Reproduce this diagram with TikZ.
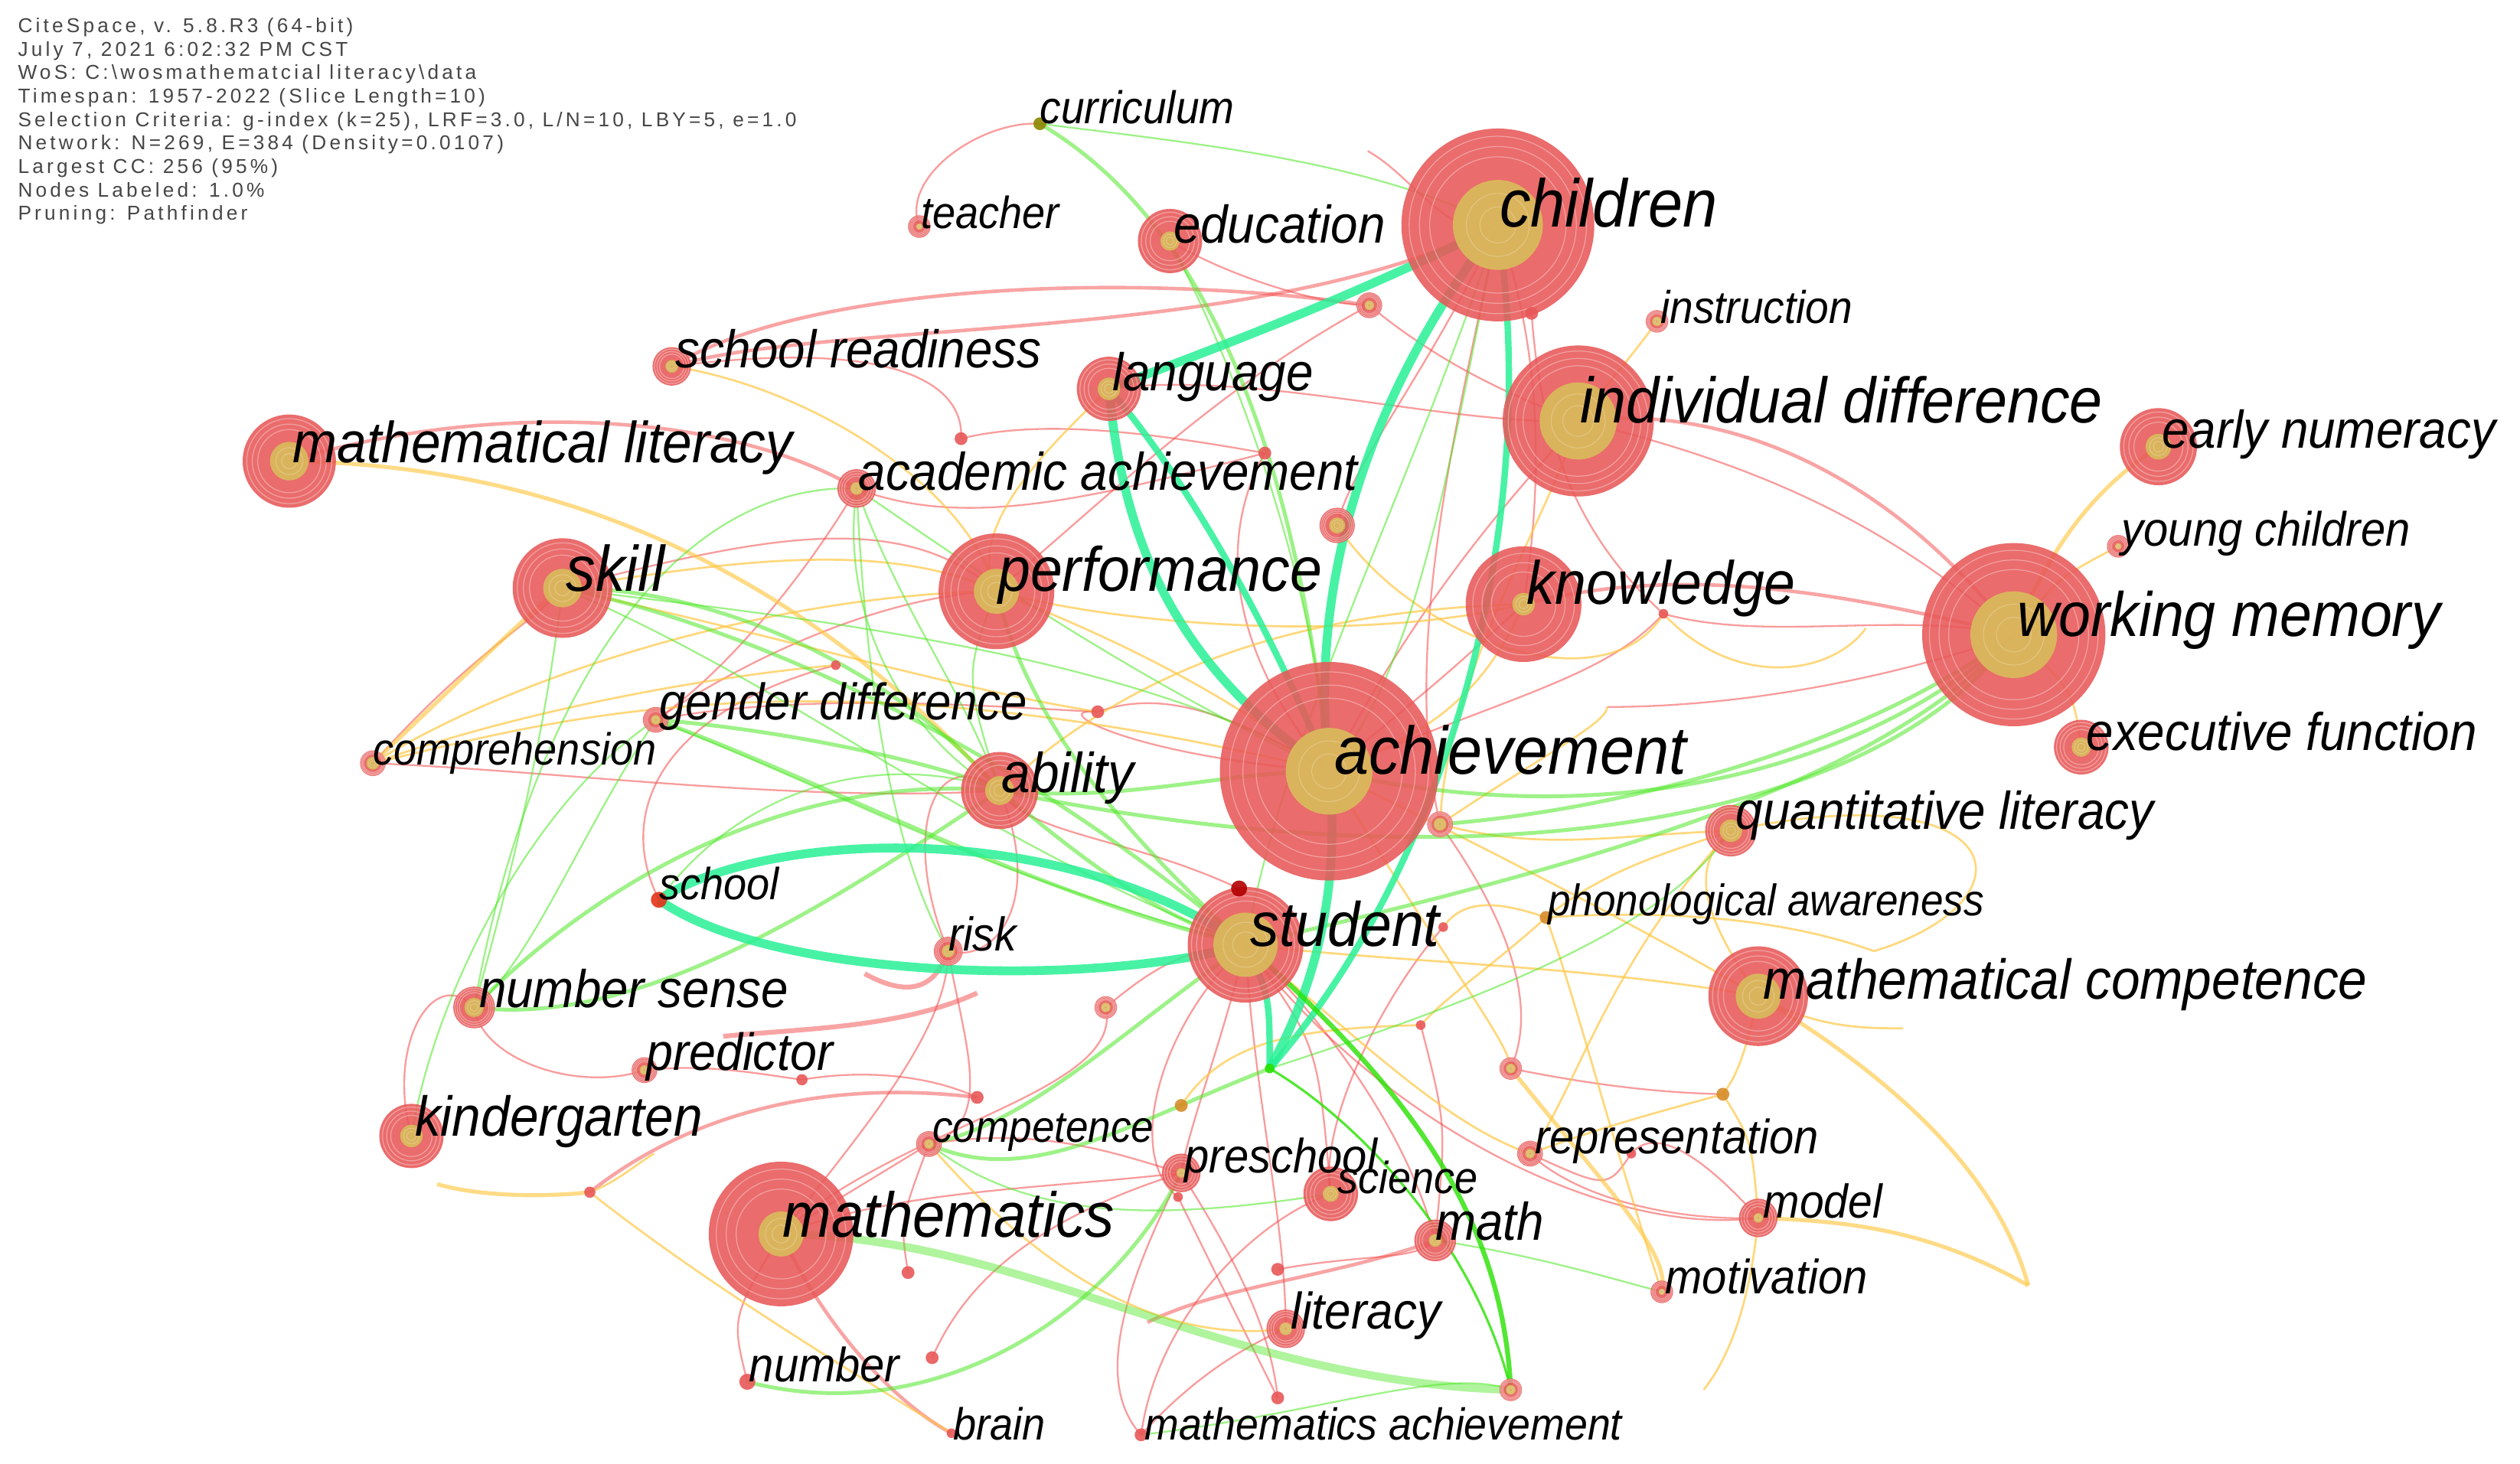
\documentclass[tikz,border=0pt]{standalone}
\usepackage{fontspec}
\setmainfont{Liberation Sans}
\newfontfamily\labfont{Liberation Sans}[FakeStretch=0.92]
\newfontfamily\hdrfont{Liberation Sans}[LetterSpace=16]
\newcommand\lab[1]{\labfont\itshape\fontsize{#1}{#1}\selectfont}
\definecolor{nred}{RGB}{232,88,88}
\definecolor{ngold}{RGB}{218,184,92}
\definecolor{ered}{RGB}{245,75,75}
\definecolor{eyel}{RGB}{255,200,70}
\definecolor{egrn}{RGB}{80,232,40}
\definecolor{ecyan}{RGB}{40,240,150}
\definecolor{ebright}{RGB}{40,225,0}
\definecolor{hdr}{RGB}{70,70,70}
\definecolor{norange}{RGB}{215,140,40}
\tikzset{
 er/.style={draw=ered, line width=1.1pt, draw opacity=.55},
 erm/.style={draw=ered, line width=2.2pt, draw opacity=.5},
 erw/.style={draw=ered, line width=3pt, draw opacity=.5},
 ey/.style={draw=eyel, line width=1.3pt, draw opacity=.7},
 eym/.style={draw=eyel, line width=2.5pt, draw opacity=.65},
 eg/.style={draw=egrn, line width=1.1pt, draw opacity=.55},
 egm/.style={draw=egrn, line width=2.4pt, draw opacity=.55},
 egw/.style={draw=egrn, line width=5pt, draw opacity=.45},
 ec/.style={draw=ecyan, line width=5.5pt, draw opacity=.85},
 ebg/.style={draw=ebright, line width=3pt, draw opacity=.8},
 lab/.style={anchor=base west, inner sep=0pt, text=black},
}
\newcommand\kw[3]{%
  \fill[nred, opacity=.88] (#1) circle[radius=#2 pt];
  \foreach \f in {0.45,0.65,0.85}
    \draw[white, opacity=.35, line width=0.6pt] (#1) circle[radius={(#3+(#2-#3)*\f)*1pt}];
  \fill[ngold, opacity=.95] (#1) circle[radius=#3 pt];
  \foreach \f in {0.4,0.7}
    \draw[white, opacity=.25, line width=0.5pt] (#1) circle[radius={(#3*\f)*1pt}];
}
\newcommand\kdot[3]{\fill[#3, opacity=.9] (#1) circle[radius=#2 pt];}
\newcommand\kwl[4]{\node[lab, font=\lab{#3}] (#1) at (#2) {#4};}
\begin{document}
\begin{tikzpicture}[x=1pt, y=-1pt]
\useasboundingbox (0,0) rectangle (1568,911);
\fill[white] (0,0) rectangle (1568,911);
% ---------- positions ----------
\coordinate (children) at (932,140);
\coordinate (achievement) at (827,480);
\coordinate (inddiff) at (982,262);
\coordinate (wm) at (1253,395);
\coordinate (perf) at (620,368);
\coordinate (know) at (948,376);
\coordinate (student) at (775,588);
\coordinate (maths) at (486,768);
\coordinate (skill) at (350,366);
\coordinate (mlit) at (180,287);
\coordinate (mcomp) at (1094,620);
\coordinate (ability) at (622,492);
\coordinate (kinder) at (256,707);
\coordinate (edu) at (728,150);
\coordinate (lang) at (690,242);
\coordinate (earlynum) at (1343,278);
\coordinate (execf) at (1295,465);
\coordinate (quantlit) at (1077,517);
\coordinate (numsense) at (295,627);
\coordinate (acad) at (533,304);
\coordinate (schready) at (418,228);
\coordinate (gender) at (408,448);
\coordinate (compr) at (232,475);
\coordinate (teacher) at (572,141);
\coordinate (curric) at (647,77);
\coordinate (instr) at (1031,200);
\coordinate (young) at (1318,340);
\coordinate (school) at (410,560);
\coordinate (risk) at (590,592);
\coordinate (predictor) at (401,666);
\coordinate (compet) at (578,712);
\coordinate (presch) at (735,730);
\coordinate (science) at (828,743);
\coordinate (math) at (893,772);
\coordinate (repres) at (952,718);
\coordinate (model) at (1094,758);
\coordinate (motiv) at (1034,804);
\coordinate (literacy) at (800,827);
\coordinate (number) at (465,860);
\coordinate (brain) at (592,892);
\coordinate (mathach) at (710,893);
\coordinate (phono) at (962,571);
\coordinate (u1) at (852,190);
\coordinate (u2) at (832,327);
\coordinate (u3) at (896,513);
\coordinate (u4) at (688,627);
\coordinate (u5) at (940,665);
\coordinate (u6) at (1072,681);
\coordinate (u7) at (735,688);
\coordinate (u8) at (598,273);
\coordinate (u9) at (683,443);
\coordinate (u10) at (787,282);
\coordinate (u11) at (520,414);
\coordinate (u12) at (1035,382);
\coordinate (u13) at (565,792);
\coordinate (u14) at (580,845);
\coordinate (u15) at (367,742);
\coordinate (u16) at (499,672);
\coordinate (u17) at (795,870);
\coordinate (u18) at (940,865);
\coordinate (u19) at (953,195);
\coordinate (u20) at (771,553);
\coordinate (u21) at (898,577);
\coordinate (u22) at (733,745);
\coordinate (u23) at (1015,718);
\coordinate (u24) at (884,638);
\coordinate (u25) at (608,683);
\coordinate (u26) at (795,790);
\coordinate (hub) at (790,665);
\coordinate (f1) at (1262,800);
\coordinate (f2) at (1166,592);
\coordinate (f3) at (1060,865);
\coordinate (f4) at (1161,391);
\coordinate (f5) at (851,94);
\coordinate (f7) at (1000,440);
\coordinate (f8) at (450,645);
\coordinate (f9) at (608,618);
\coordinate (f10) at (1184,640);
\coordinate (f13) at (272,737);
\coordinate (f14) at (407,718);
\coordinate (f15) at (538,606);
\coordinate (f17) at (714,823);
% ---------- red edges ----------
\draw[erm] (mlit) .. controls (300,250) and (450,255) .. (acad);
\draw[erm] (schready) .. controls (500,178) and (700,168) .. (u1);
\draw[erm] (schready) .. controls (520,198) and (780,215) .. (children);
\draw[er] (schready) .. controls (560,210) and (600,240) .. (u8);
\draw[er] (teacher) .. controls (560,110) and (610,75) .. (curric);
\draw[er] (f5) .. controls (880,110) and (900,150) .. (children);
\draw[er] (children) .. controls (910,250) and (870,400) .. (u3);
\draw[er] (children) .. controls (890,230) and (840,290) .. (u2);
\draw[er] (children) .. controls (960,220) and (960,300) .. (know);
\draw[er] (edu) .. controls (760,170) and (820,190) .. (u1);
\draw[erm] (inddiff) .. controls (1080,250) and (1180,300) .. (wm);
\draw[er] (lang) .. controls (780,230) and (900,265) .. (inddiff);
\draw[erm] (know) .. controls (1050,350) and (1150,370) .. (wm);
\draw[er] (f7) .. controls (1100,440) and (1200,415) .. (wm);
\draw[er] (numsense) .. controls (300,660) and (360,680) .. (predictor);
\draw[er] (predictor) .. controls (440,662) and (470,668) .. (u16);
\draw[er] (u16) .. controls (540,665) and (580,670) .. (u25);
\draw[erm] (u15) .. controls (420,700) and (500,670) .. (u25);
\draw[erw] (f8) .. controls (500,640) and (560,640) .. (f9);
\draw[erw] (f15) .. controls (560,618) and (580,620) .. (risk);
\draw[erm] (maths) .. controls (515,830) and (560,875) .. (brain);
\draw[er] (number) .. controls (455,820) .. (maths);
\draw[er] (maths) .. controls (540,700) and (590,640) .. (risk);
\draw[er] (maths) .. controls (560,740) and (650,740) .. (presch);
\draw[er] (maths) -- (compet);
\draw[er] (maths) .. controls (560,700) and (700,680) .. (u4);
\draw[er] (student) .. controls (780,680) and (800,760) .. (literacy);
\draw[er] (student) .. controls (840,650) and (880,720) .. (math);
\draw[er] (student) .. controls (760,650) and (740,700) .. (presch);
\draw[er] (student) .. controls (820,650) .. (science);
\draw[er] (student) .. controls (860,700) and (1000,770) .. (model);
\draw[er] (u26) .. controls (850,780) and (880,785) .. (math);
\draw[er] (mathach) .. controls (720,820) and (780,760) .. (science);
\draw[er] (mathach) .. controls (740,860) and (770,840) .. (literacy);
\draw[er] (u17) .. controls (790,820) and (760,770) .. (presch);
\draw[er] (repres) .. controls (980,745) and (1040,760) .. (model);
\draw[er] (u5) .. controls (990,675) and (1030,680) .. (u6);
\draw[erm] (f17) .. controls (760,800) and (830,795) .. (math);
\draw[er] (kinder) .. controls (240,650) and (270,600) .. (numsense);
\draw[er] (compr) .. controls (300,400) and (330,390) .. (skill);
\draw[er] (skill) .. controls (470,335) and (560,315) .. (perf);
\draw[er] (gender) .. controls (500,430) and (620,440) .. (u9);
\draw[er] (gender) .. controls (480,400) and (560,370) .. (perf);
\draw[er] (compr) .. controls (350,480) and (500,500) .. (ability);
\draw[er] (achievement) .. controls (950,430) and (1000,420) .. (u12);
\draw[er] (achievement) .. controls (760,400) and (760,330) .. (u10);
\draw[er] (achievement) .. controls (700,470) and (650,440) .. (u9);
\draw[er] (inddiff) .. controls (950,300) and (890,360) .. (achievement);
\draw[er] (know) .. controls (900,420) .. (achievement);
\draw[er] (acad) .. controls (600,330) and (680,310) .. (u10);
\draw[er] (u8) .. controls (650,260) and (720,270) .. (u10);
\draw[er] (risk) .. controls (600,650) and (620,700) .. (compet);
\draw[er] (compet) .. controls (650,700) and (700,720) .. (presch);
\draw[er] (u13) .. controls (560,760) .. (compet);
\draw[er] (u14) .. controls (600,800) and (640,760) .. (presch);
\draw[er] (ability) .. controls (650,560) and (620,600) .. (risk);
\draw[er] (u4) .. controls (720,600) and (740,590) .. (student);
\draw[er] (u24) .. controls (900,700) .. (math);
\draw[er] (u21) .. controls (860,620) and (820,700) .. (science);
\draw[er] (u23) .. controls (1000,740) .. (repres);
\draw[er] (perf) .. controls (700,300) and (760,240) .. (u1);
\draw[er] (u1) .. controls (900,230) and (950,250) .. (inddiff);
\draw[er] (wm) .. controls (1180,330) and (1100,290) .. (inddiff);
\draw[er] (u19) .. controls (960,300) and (1000,350) .. (u12);
\draw[er] (u20) .. controls (700,520) and (640,520) .. (ability);
\draw[er] (presch) .. controls (700,800) and (680,860) .. (mathach);
\draw[er] (u22) .. controls (760,800) .. (u17);
\draw[er] (acad) .. controls (500,360) and (450,420) .. (gender);
\draw[er] (u9) .. controls (720,430) and (760,440) .. (achievement);
\draw[er] (risk) .. controls (560,520) and (580,460) .. (ability);
\draw[er] (student) .. controls (720,640) and (700,720) .. (u22);
\draw[er] (model) .. controls (1060,720) and (1030,700) .. (u23);
\draw[er] (u12) .. controls (1100,400) and (1180,380) .. (wm);
\draw[er] (school) .. controls (380,500) and (420,440) .. (u11);
\draw[er] (u5) .. controls (960,620) and (930,560) .. (u3);
% ---------- yellow edges ----------
\draw[eym] (mlit) .. controls (380,290) and (520,380) .. (ability);
\draw[ey] (schready) .. controls (500,240) and (600,300) .. (perf);
\draw[eym] (compr) .. controls (290,420) and (330,380) .. (skill);
\draw[ey] (compr) .. controls (320,420) and (480,370) .. (perf);
\draw[ey] (compr) .. controls (330,440) and (450,420) .. (u11);
\draw[ey] (compr) .. controls (340,450) and (500,400) .. (achievement);
\draw[ey] (skill) .. controls (450,350) and (550,335) .. (perf);
\draw[ey] (perf) .. controls (700,400) and (760,430) .. (achievement);
\draw[ey] (perf) .. controls (700,390) and (850,400) .. (know);
\draw[ey] (lang) .. controls (650,280) and (600,330) .. (perf);
\draw[ey] (instr) .. controls (1020,215) .. (inddiff);
\draw[eym] (wm) .. controls (1280,330) and (1310,300) .. (earlynum);
\draw[ey] (wm) .. controls (1280,360) .. (young);
\draw[ey] (wm) .. controls (1290,430) .. (execf);
\draw[ey] (inddiff) .. controls (960,330) and (900,420) .. (u3);
\draw[ey] (know) .. controls (920,440) and (880,460) .. (achievement);
\draw[ey] (u12) .. controls (1080,430) and (1140,420) .. (f4);
\draw[ey] (quantlit) .. controls (1250,480) and (1270,560) .. (f2);
\draw[ey] (quantlit) .. controls (1000,600) and (980,680) .. (repres);
\draw[ey] (phono) .. controls (1050,565) and (1120,575) .. (f2);
\draw[eym] (mcomp) .. controls (1160,660) and (1240,720) .. (f1);
\draw[eym] (model) .. controls (1150,760) and (1200,765) .. (f1);
\draw[ey] (mcomp) .. controls (1130,640) and (1160,640) .. (f10);
\draw[ey] (mcomp) .. controls (1085,660) and (1080,670) .. (u6);
\draw[ey] (u6) .. controls (1090,710) .. (model);
\draw[eym] (u5) .. controls (1000,740) and (1040,780) .. (motiv);
\draw[ey] (model) .. controls (1090,800) and (1080,840) .. (f3);
\draw[ey] (phono) .. controls (980,620) and (1000,700) .. (motiv);
\draw[ey] (u15) .. controls (440,800) and (540,860) .. (brain);
\draw[eym] (f13) .. controls (300,745) and (340,745) .. (u15);
\draw[ey] (u15) .. controls (385,735) and (395,725) .. (f14);
\draw[ey] (student) .. controls (850,650) and (900,700) .. (repres);
\draw[ey] (achievement) .. controls (900,600) and (940,650) .. (u5);
\draw[ey] (compet) .. controls (620,760) and (700,840) .. (literacy);
\draw[ey] (student) .. controls (880,600) and (980,600) .. (mcomp);
\draw[ey] (phono) .. controls (930,600) and (900,620) .. (u24);
\draw[ey] (quantlit) .. controls (1000,520) and (960,530) .. (u3);
\draw[ey] (phono) .. controls (1000,540) and (1040,530) .. (quantlit);
\draw[ey] (u7) .. controls (760,650) and (800,640) .. (u24);
\draw[ey] (achievement) .. controls (990,560) and (1060,600) .. (mcomp);
\draw[ey] (ability) .. controls (700,420) and (800,380) .. (know);
\draw[ey] (skill) .. controls (500,400) and (600,430) .. (u9);
\draw[ey] (phono) .. controls (930,560) and (910,560) .. (u21);
\draw[ey] (mcomp) .. controls (1060,570) and (1050,540) .. (quantlit);
\draw[ey] (repres) .. controls (1000,700) and (1040,690) .. (u6);
\draw[ey] (u3) .. controls (960,470) and (1000,450) .. (f7);
\draw[ey] (u2) .. controls (880,400) and (1000,440) .. (u12);
% ---------- green edges ----------
\draw[egm] (wm) .. controls (1150,470) and (1000,505) .. (u3);
\draw[egm] (wm) .. controls (1160,480) and (1000,520) .. (achievement);
\draw[egm] (wm) .. controls (1170,490) and (980,540) .. (student);
\draw[egm] (wm) .. controls (1180,500) and (950,560) .. (ability);
\draw[egm] (skill) .. controls (450,365) and (560,420) .. (ability);
\draw[eg] (skill) .. controls (450,380) and (700,400) .. (achievement);
\draw[egm] (skill) .. controls (470,390) and (640,470) .. (student);
\draw[eg] (acad) .. controls (560,380) and (600,430) .. (ability);
\draw[eg] (acad) .. controls (520,400) and (580,470) .. (ability);
\draw[eg] (acad) .. controls (600,350) and (700,420) .. (achievement);
\draw[eg] (acad) .. controls (420,300) and (330,430) .. (numsense);
\draw[egm] (gender) .. controls (500,455) and (600,480) .. (ability);
\draw[egm] (gender) .. controls (500,480) and (650,560) .. (student);
\draw[eg] (numsense) .. controls (320,540) and (340,450) .. (skill);
\draw[egm] (numsense) .. controls (400,640) and (520,560) .. (ability);
\draw[egm] (perf) .. controls (640,450) and (700,520) .. (student);
\draw[eg] (perf) .. controls (600,420) .. (ability);
\draw[egm] (ability) .. controls (700,500) and (760,480) .. (achievement);
\draw[egm] (ability) .. controls (680,540) and (720,570) .. (student);
\draw[eg] (curric) .. controls (750,90) and (850,100) .. (children);
\draw[egm] (curric) .. controls (720,120) and (800,220) .. (achievement);
\draw[eg] (edu) .. controls (780,250) and (820,380) .. (achievement);
\draw[eg] (children) .. controls (880,300) and (800,450) .. (student);
\draw[eg] (children) .. controls (900,300) and (880,420) .. (achievement);
\draw[eg] (math) .. controls (950,780) and (1000,795) .. (motiv);
\draw[eg] (quantlit) .. controls (1040,570) and (960,610) .. (hub);
\draw[egm] (number) .. controls (580,890) and (690,820) .. (presch);
\draw[egw] (maths) .. controls (640,770) and (760,860) .. (u18);
\draw[egm] (compet) .. controls (640,740) and (700,700) .. (hub);
\draw[eg] (school) .. controls (470,480) and (560,470) .. (ability);
\draw[eg] (gender) .. controls (360,520) and (330,600) .. (numsense);
\draw[eg] (mathach) .. controls (820,880) and (900,850) .. (u18);
\draw[eg] (gender) .. controls (540,500) and (600,540) .. (student);
\draw[eg] (skill) .. controls (500,430) and (600,520) .. (student);
\draw[egm] (numsense) .. controls (360,560) and (480,480) .. (ability);
\draw[eg] (kinder) .. controls (270,620) and (330,500) .. (gender);
\draw[eg] (acad) .. controls (540,450) and (560,540) .. (risk);
\draw[egm] (student) .. controls (700,640) and (640,700) .. (compet);
\draw[eg] (compet) .. controls (640,760) and (720,760) .. (science);
% ---------- thick cyan / bright green ----------
\draw[ec] (school) .. controls (470,520) and (650,505) .. (student);
\draw[ec] (school) .. controls (480,610) and (680,615) .. (student);
\draw[ec] (children) .. controls (830,190) and (760,215) .. (lang);
\draw[ec] (lang) .. controls (700,350) and (740,420) .. (achievement);
\draw[ec, line width=4pt] (lang) .. controls (740,300) and (790,390) .. (achievement);
\draw[ec] (children) .. controls (840,260) and (815,380) .. (achievement);
\draw[ec] (achievement) .. controls (835,560) and (815,620) .. (hub);
\draw[ec, line width=4pt] (children) .. controls (960,330) and (900,540) .. (hub);
\draw[ec, line width=4pt] (student) .. controls (790,620) .. (hub);
\draw[ebg] (student) .. controls (880,680) and (935,760) .. (u18);
\draw[ebg, line width=1.5pt] (hub) .. controls (850,700) and (920,780) .. (u18);
% ---------- keyword nodes ----------
\kw{children}{60}{28}
\kw{achievement}{68}{27}
\kw{inddiff}{47}{24}
\kw{wm}{57}{27}
\kw{perf}{36}{14}
\kw{know}{36}{7}
\kw{student}{36}{20}
\kw{maths}{45}{14}
\kw{skill}{31}{12}
\kw{mlit}{29}{12}
\kw{mcomp}{31}{14}
\kw{ability}{24}{9}
\kw{kinder}{20}{7}
\kw{edu}{20}{6}
\kw{lang}{20}{7}
\kw{earlynum}{24}{8}
\kw{execf}{17}{6}
\kw{quantlit}{16}{7}
\kw{numsense}{13}{6}
\kw{acad}{12}{4}
\kw{schready}{12}{4}
\kw{gender}{8}{3}
\kw{compr}{8}{4}
\kw{teacher}{7}{2}
\kw{instr}{7}{3}
\kw{young}{7}{2}
\kw{risk}{9}{4}
\kw{predictor}{8}{3}
\kw{compet}{8}{3}
\kw{presch}{12}{3}
\kw{science}{17}{5}
\kw{math}{13}{4}
\kw{repres}{8}{3}
\kw{model}{12}{3}
\kw{motiv}{7}{2}
\kw{literacy}{12}{4}
\kw{u1}{8}{3}
\kw{u2}{11}{5}
\kw{u3}{8}{4}
\kw{u4}{7}{3}
\kw{u5}{7}{3}
\kw{u18}{7}{3}
\kdot{curric}{4}{olive}
\kdot{school}{5}{red!60!brown}
\kdot{number}{5}{nred}
\kdot{brain}{3}{nred}
\kdot{mathach}{4}{nred}
\kdot{phono}{4}{norange}
\kdot{u6}{4}{norange}
\kdot{u7}{4}{norange}
\kdot{u8}{4}{nred}
\kdot{u9}{4}{nred}
\kdot{u10}{4}{nred}
\kdot{u11}{3}{nred}
\kdot{u12}{3}{nred}
\kdot{u13}{4}{nred}
\kdot{u14}{4}{nred}
\kdot{u15}{3.5}{nred}
\kdot{u16}{3.5}{nred}
\kdot{u17}{4}{nred}
\kdot{u19}{4}{nred}
\kdot{u20}{5}{red!70!black}
\kdot{u21}{3}{nred}
\kdot{u22}{3}{nred}
\kdot{u23}{3}{nred}
\kdot{u24}{3}{nred}
\kdot{u25}{4}{nred}
\kdot{u26}{4}{nred}
\kdot{hub}{3}{ebright}
% ---------- labels ----------
\kwl{t-children}{933,141}{42}{children}
\kwl{t-achievement}{830,482}{42}{achievement}
\kwl{t-inddiff}{983,263}{40}{individual difference}
\kwl{t-wm}{1255,396}{39}{working memory}
\kwl{t-perf}{621,368}{39}{performance}
\kwl{t-know}{950,376}{38}{knowledge}
\kwl{t-student}{778,589}{39}{student}
\kwl{t-maths}{487,770}{39.5}{mathematics}
\kwl{t-skill}{352,368}{40}{skill}
\kwl{t-mlit}{182,288}{36}{mathematical literacy}
\kwl{t-mcomp}{1097,622}{35}{mathematical competence}
\kwl{t-ability}{623,493}{35}{ability}
\kwl{t-kinder}{258,707}{35}{kindergarten}
\kwl{t-edu}{730,151}{33}{education}
\kwl{t-lang}{692,243}{33}{language}
\kwl{t-schready}{420,229}{33}{school readiness}
\kwl{t-acad}{534,305}{33}{academic achievement}
\kwl{t-gender}{410,448}{32}{gender difference}
\kwl{t-compr}{232,476}{28}{comprehension}
\kwl{t-teacher}{573,142}{28}{teacher}
\kwl{t-curric}{647,77}{28.5}{curriculum}
\kwl{t-instr}{1033,201}{28.5}{instruction}
\kwl{t-earlynum}{1345,279}{33}{early numeracy}
\kwl{t-young}{1320,340}{30}{young children}
\kwl{t-execf}{1298,467}{33}{executive function}
\kwl{t-quantlit}{1080,516}{33}{quantitative literacy}
\kwl{t-phono}{963,570}{27.5}{phonological awareness}
\kwl{t-school}{410,560}{28}{school}
\kwl{t-risk}{590,592}{29.5}{risk}
\kwl{t-numsense}{298,627}{33}{number sense}
\kwl{t-predictor}{402,666}{32.5}{predictor}
\kwl{t-compet}{580,711}{27.5}{competence}
\kwl{t-presch}{737,730}{30}{preschool}
\kwl{t-science}{832,743}{28}{science}
\kwl{t-math}{893,772}{33}{math}
\kwl{t-repres}{955,718}{30}{representation}
\kwl{t-model}{1097,758}{29.5}{model}
\kwl{t-motiv}{1036,805}{30}{motivation}
\kwl{t-literacy}{803,827}{32}{literacy}
\kwl{t-number}{466,860}{30}{number}
\kwl{t-brain}{593,896}{28}{brain}
\kwl{t-mathach}{712,896}{27.8}{mathematics achievement}
% ---------- header ----------
\node[anchor=north west, inner sep=0pt, align=left, text=hdr,
      font=\hdrfont\fontsize{12.5}{14.6}\selectfont] (header) at (11,11)
 {CiteSpace, v. 5.8.R3 (64-bit)\\
  July 7, 2021 6:02:32 PM CST\\
  WoS: C:\textbackslash wosmathematcial literacy\textbackslash data\\
  Timespan: 1957-2022 (Slice Length=10)\\
  Selection Criteria: g-index (k=25), LRF=3.0, L/N=10, LBY=5, e=1.0\\
  Network: N=269, E=384 (Density=0.0107)\\
  Largest CC: 256 (95\%)\\
  Nodes Labeled: 1.0\%\\
  Pruning: Pathfinder};
\end{tikzpicture}
\end{document}
